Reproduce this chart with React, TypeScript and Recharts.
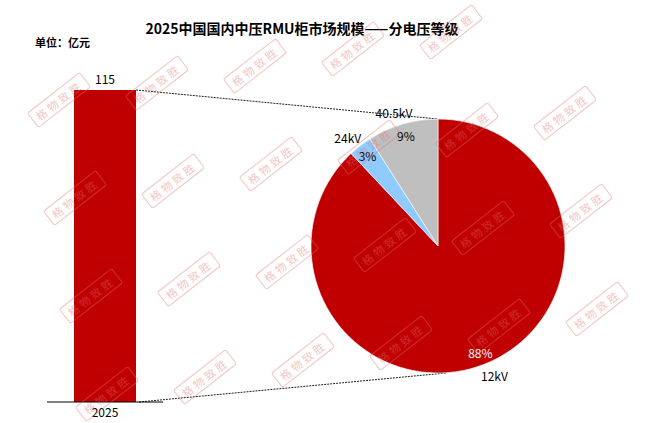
import React from 'react';
import { BarChart, Bar, XAxis, YAxis, LabelList, PieChart, Pie, Cell } from 'recharts';

// 2025 market size (亿元) and its split by voltage level (%)
const years = ['2025'];
const marketSize = [115];
const voltageLevels = ['12kV', '24kV', '40.5kV'];
const voltageShares = [88, 3, 9];
const sliceColors = ['#C00000', '#8FCBFF', '#BFBFBF'];

const W = 663;
const H = 423;
const FONT = '"Noto Sans CJK SC", "Noto Sans", sans-serif';

const PIE_CX = 438;
const PIE_CY = 246;
const PIE_R = 127;
const RADIAN = Math.PI / 180;

const barData = years.map((year, i) => ({ year, size: marketSize[i] }));
const pieData = voltageLevels.map((name, i) => ({ name, value: voltageShares[i] }));

// bar rect plus the dotted connectors to the top and bottom of the pie
const BarWithConnectors = (props: any) => {
  const { x, y, width, height, fill } = props;
  return (
    <g>
      <rect x={x} y={y} width={width} height={height} fill={fill} />
      <line x1={x + width} y1={y} x2={PIE_CX} y2={PIE_CY - PIE_R}
        stroke="#222" strokeWidth={1} strokeDasharray="2 1" />
      <line x1={x + width + 3} y1={y + height} x2={PIE_CX + 8} y2={PIE_CY + PIE_R}
        stroke="#222" strokeWidth={1} strokeDasharray="2 1" />
    </g>
  );
};

const renderPieLabel = (props: any) => {
  const { cx, cy, midAngle, outerRadius, index, name, value } = props;
  const rIn = outerRadius - 12;
  const rOut = outerRadius + 14;
  const aIn = -midAngle * RADIAN;
  const aOut = -(midAngle + 2) * RADIAN;
  return (
    <g>
      <text x={cx + rIn * Math.cos(aIn)} y={cy + rIn * Math.sin(aIn)} textAnchor="middle" dominantBaseline="central"
        fontSize={12} fontFamily={FONT} fill={index === 0 ? '#fff' : '#000'}>
        {`${value}%`}
      </text>
      <text x={cx + rOut * Math.cos(aOut)} y={cy + rOut * Math.sin(aOut)} textAnchor="middle" dominantBaseline="central"
        fontSize={12} fontFamily={FONT} fill="#000">
        {name}
      </text>
    </g>
  );
};

const Watermarks = () => {
  const marks: { x: number; y: number }[] = [];
  for (let i = -2; i < 9; i++) {
    for (let j = -2; j < 6; j++) {
      const x = 59 + 98 * i + 16 * j;
      const y = 100 - 17 * i + 98 * j;
      if (x > 32 && x < W - 32 && y > 28 && y < H - 28) marks.push({ x, y });
    }
  }
  return (
    <svg width={W} height={H} style={{ position: 'absolute', left: 0, top: 0, pointerEvents: 'none', opacity: 0.4 }}>
      {marks.map((m, k) => (
        <g key={k} transform={`rotate(-38 ${m.x} ${m.y})`}>
          <rect x={m.x - 33} y={m.y - 9} width={66} height={18} rx={2} fill="none" stroke="#E07070" strokeWidth={1} />
          <text x={m.x} y={m.y} textAnchor="middle" dominantBaseline="central" fontSize={11}
            letterSpacing={3} fontFamily={FONT} fill="#E07070">格物致胜</text>
        </g>
      ))}
    </svg>
  );
};

const App = () => {
  return (
    <div style={{ position: 'absolute', left: 0, top: 0, width: W, height: H, background: '#fff', fontFamily: FONT, overflow: 'hidden' }}>
      <div style={{ position: 'absolute', left: 0, width: 604, top: 18, textAlign: 'center', fontSize: 14, fontWeight: 700, lineHeight: '20px', color: '#000' }}>
        2025中国国内中压RMU柜市场规模——分电压等级
      </div>
      <div style={{ position: 'absolute', left: 35, top: 34, fontSize: 11, fontWeight: 700, lineHeight: '16px', color: '#000' }}>
        单位：亿元
      </div>

      <div style={{ position: 'absolute', left: 0, top: 0 }}>
        <BarChart width={W} height={H} data={barData} margin={{ top: 90, right: W - 163, bottom: 0, left: 47 }}>
          <XAxis dataKey="year" height={21} tickLine={false} tickSize={4}
            axisLine={{ stroke: '#000', strokeWidth: 1 }}
            tick={{ fontSize: 12, fill: '#000', fontFamily: FONT }} />
          <YAxis hide domain={[0, 115]} />
          <Bar dataKey="size" fill="#C00000" barSize={62} isAnimationActive={false} shape={BarWithConnectors}>
            <LabelList dataKey="size" position="top" offset={6} fontSize={12} fill="#000" fontFamily={FONT} />
          </Bar>
        </BarChart>
      </div>

      <div style={{ position: 'absolute', left: 0, top: 0 }}>
        <PieChart width={W} height={H} margin={{ top: 0, right: 0, bottom: 0, left: 0 }}>
          <Pie data={pieData} dataKey="value" nameKey="name" cx={PIE_CX} cy={PIE_CY}
            outerRadius={PIE_R} startAngle={90} endAngle={-270}
            stroke="#fff" strokeWidth={0.6} label={renderPieLabel} labelLine={false}
            isAnimationActive={false}>
            {pieData.map((d, i) => (
              <Cell key={d.name} fill={sliceColors[i]} />
            ))}
          </Pie>
        </PieChart>
      </div>

      <Watermarks />
    </div>
  );
};

export default App;
